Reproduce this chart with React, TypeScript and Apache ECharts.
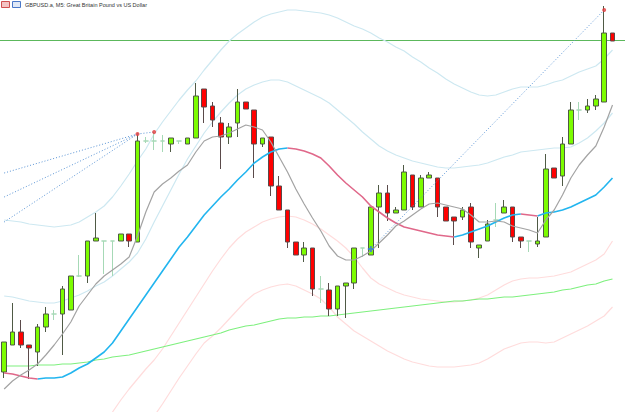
import React, { useEffect, useRef } from "react";
import * as echarts from "echarts";

// [open, close, low, high]
const candles: number[][] = [
  [1.27040, 1.27070, 1.27034, 1.27070],
  [1.27067, 1.27080, 1.27067, 1.27109],
  [1.27080, 1.27067, 1.27064, 1.27092],
  [1.27067, 1.27064, 1.27033, 1.27067],
  [1.27060, 1.27085, 1.27046, 1.27088],
  [1.27085, 1.27098, 1.27080, 1.27105],
  [1.27098, 1.27098, 1.27092, 1.27102],
  [1.27098, 1.27123, 1.27057, 1.27126],
  [1.27102, 1.27136, 1.27102, 1.27136],
  [1.27136, 1.27136, 1.27135, 1.27157],
  [1.27136, 1.27171, 1.27129, 1.27171],
  [1.27171, 1.27174, 1.27171, 1.27199],
  [1.27171, 1.27171, 1.27138, 1.27171],
  [1.27171, 1.27171, 1.27136, 1.27171],
  [1.27171, 1.27178, 1.27171, 1.27178],
  [1.27178, 1.27171, 1.27165, 1.27178],
  [1.27170, 1.27271, 1.27170, 1.27277],
  [1.27271, 1.27271, 1.27269, 1.27275],
  [1.27271, 1.27271, 1.27262, 1.27280],
  [1.27271, 1.27271, 1.27260, 1.27277],
  [1.27268, 1.27274, 1.27260, 1.27274],
  [1.27271, 1.27271, 1.27268, 1.27271],
  [1.27268, 1.27274, 1.27268, 1.27274],
  [1.27274, 1.27316, 1.27274, 1.27329],
  [1.27323, 1.27305, 1.27289, 1.27323],
  [1.27306, 1.27292, 1.27285, 1.27310],
  [1.27289, 1.27275, 1.27243, 1.27295],
  [1.27275, 1.27285, 1.27268, 1.27289],
  [1.27289, 1.27310, 1.27275, 1.27323],
  [1.27310, 1.27303, 1.27303, 1.27310],
  [1.27302, 1.27268, 1.27234, 1.27302],
  [1.27268, 1.27274, 1.27265, 1.27274],
  [1.27275, 1.27226, 1.27216, 1.27275],
  [1.27226, 1.27202, 1.27202, 1.27236],
  [1.27202, 1.27170, 1.27164, 1.27202],
  [1.27170, 1.27157, 1.27157, 1.27170],
  [1.27157, 1.27164, 1.27150, 1.27170],
  [1.27164, 1.27123, 1.27116, 1.27164],
  [1.27123, 1.27123, 1.27109, 1.27136],
  [1.27122, 1.27103, 1.27096, 1.27129],
  [1.27103, 1.27126, 1.27096, 1.27126],
  [1.27126, 1.27129, 1.27094, 1.27129],
  [1.27129, 1.27164, 1.27123, 1.27164],
  [1.27164, 1.27164, 1.27155, 1.27164],
  [1.27157, 1.27205, 1.27157, 1.27205],
  [1.27205, 1.27219, 1.27164, 1.27227],
  [1.27219, 1.27199, 1.27191, 1.27227],
  [1.27199, 1.27202, 1.27199, 1.27205],
  [1.27202, 1.27240, 1.27202, 1.27247],
  [1.27237, 1.27205, 1.27202, 1.27237],
  [1.27205, 1.27234, 1.27205, 1.27237],
  [1.27234, 1.27237, 1.27234, 1.27240],
  [1.27234, 1.27205, 1.27195, 1.27234],
  [1.27205, 1.27191, 1.27191, 1.27205],
  [1.27195, 1.27191, 1.27167, 1.27195],
  [1.27195, 1.27202, 1.27192, 1.27205],
  [1.27205, 1.27170, 1.27164, 1.27209],
  [1.27164, 1.27167, 1.27154, 1.27167],
  [1.27171, 1.27188, 1.27171, 1.27192],
  [1.27192, 1.27192, 1.27185, 1.27209],
  [1.27199, 1.27205, 1.27199, 1.27212],
  [1.27205, 1.27175, 1.27170, 1.27205],
  [1.27175, 1.27171, 1.27164, 1.27175],
  [1.27171, 1.27171, 1.27160, 1.27171],
  [1.27168, 1.27171, 1.27165, 1.27195],
  [1.27175, 1.27243, 1.27175, 1.27258],
  [1.27244, 1.27234, 1.27234, 1.27244],
  [1.27236, 1.27268, 1.27226, 1.27275],
  [1.27268, 1.27302, 1.27268, 1.27310],
  [1.27302, 1.27302, 1.27292, 1.27310],
  [1.27302, 1.27306, 1.27299, 1.27313],
  [1.27306, 1.27313, 1.27302, 1.27317],
  [1.27310, 1.27379, 1.27310, 1.27406],
  [1.27379, 1.27371, 1.27371, 1.27379],
];

const fastMA = [
  1.27023, 1.27031, 1.27037, 1.27042, 1.27048, 1.27057, 1.27067, 1.27078, 1.27090, 1.27106,
  1.27117, 1.27128, 1.27136, 1.27142, 1.27148, 1.27155, 1.27176, 1.27200, 1.27220, 1.27228,
  1.27234, 1.27241, 1.27247, 1.27260, 1.27271, 1.27275, 1.27276, 1.27279, 1.27283, 1.27287,
  1.27285, 1.27282, 1.27270, 1.27255, 1.27240, 1.27223, 1.27208, 1.27194, 1.27181, 1.27166,
  1.27156, 1.27152, 1.27152, 1.27156, 1.27161, 1.27169, 1.27177, 1.27186, 1.27191, 1.27197,
  1.27203, 1.27208, 1.27209, 1.27207, 1.27205, 1.27203, 1.27197, 1.27190, 1.27190, 1.27191,
  1.27190, 1.27186, 1.27184, 1.27182, 1.27179, 1.27192, 1.27202, 1.27217, 1.27234, 1.27247,
  1.27257, 1.27266, 1.27285, 1.27307,
];

const slowMA = [
  1.27039, 1.27038, 1.27036, 1.27034, 1.27033, 1.27034, 1.27034, 1.27035, 1.27039, 1.27044,
  1.27048, 1.27054, 1.27060, 1.27069, 1.27081, 1.27093, 1.27105, 1.27117, 1.27129, 1.27141,
  1.27153, 1.27165, 1.27175, 1.27186, 1.27197, 1.27206, 1.27215, 1.27223, 1.27232, 1.27240,
  1.27249, 1.27255, 1.27260, 1.27263, 1.27264, 1.27263, 1.27261, 1.27258, 1.27254, 1.27246,
  1.27237, 1.27229, 1.27222, 1.27215, 1.27206, 1.27200, 1.27194, 1.27189, 1.27185, 1.27183,
  1.27181, 1.27179, 1.27177, 1.27176, 1.27175, 1.27177, 1.27180, 1.27183, 1.27186, 1.27190,
  1.27194, 1.27197, 1.27198, 1.27197, 1.27196, 1.27199, 1.27200, 1.27202, 1.27205, 1.27209,
  1.27213, 1.27217, 1.27225, 1.27234,
];

const longMA = [
  1.27046, 1.27046, 1.27046, 1.27046, 1.27047, 1.27047, 1.27047, 1.27048, 1.27048, 1.27049,
  1.27050, 1.27052, 1.27053, 1.27055, 1.27056, 1.27057, 1.27059, 1.27061, 1.27063, 1.27065,
  1.27067, 1.27069, 1.27071, 1.27073, 1.27075, 1.27077, 1.27079, 1.27082, 1.27084, 1.27086,
  1.27087, 1.27089, 1.27091, 1.27093, 1.27094, 1.27094, 1.27095, 1.27095, 1.27096, 1.27096,
  1.27097, 1.27098, 1.27099, 1.27100, 1.27101, 1.27102, 1.27103, 1.27104, 1.27105, 1.27106,
  1.27107, 1.27108, 1.27109, 1.27110, 1.27111, 1.27111, 1.27112, 1.27113, 1.27113, 1.27114,
  1.27115, 1.27115, 1.27116, 1.27117, 1.27118, 1.27119, 1.27120, 1.27122, 1.27123, 1.27125,
  1.27127, 1.27128, 1.27131, 1.27133,
];

const bandUpper = [
  1.27192, 1.27191, 1.27190, 1.27188, 1.27187, 1.27186, 1.27185, 1.27186, 1.27187, 1.27190,
  1.27195, 1.27200, 1.27206, 1.27215, 1.27226, 1.27238, 1.27251, 1.27263, 1.27278, 1.27290,
  1.27301, 1.27312, 1.27322, 1.27331, 1.27342, 1.27352, 1.27362, 1.27371, 1.27378, 1.27384,
  1.27390, 1.27395, 1.27398, 1.27400, 1.27402, 1.27402, 1.27401, 1.27400, 1.27399, 1.27397,
  1.27394, 1.27390, 1.27386, 1.27383, 1.27379, 1.27374, 1.27370, 1.27365, 1.27361, 1.27355,
  1.27350, 1.27344, 1.27339, 1.27333, 1.27328, 1.27324, 1.27320, 1.27317, 1.27316, 1.27317,
  1.27320, 1.27323, 1.27325, 1.27325, 1.27325, 1.27327, 1.27330, 1.27332, 1.27336, 1.27340,
  1.27343, 1.27346, 1.27353, 1.27362,
];

const bandLower = [
  1.27116, 1.27115, 1.27113, 1.27111, 1.27110, 1.27109, 1.27109, 1.27111, 1.27114, 1.27117,
  1.27121, 1.27126, 1.27130, 1.27136, 1.27143, 1.27150, 1.27159, 1.27173, 1.27190, 1.27206,
  1.27222, 1.27238, 1.27253, 1.27266, 1.27279, 1.27290, 1.27300, 1.27309, 1.27317, 1.27323,
  1.27327, 1.27330, 1.27332, 1.27332, 1.27330, 1.27326, 1.27322, 1.27318, 1.27314, 1.27309,
  1.27302, 1.27295, 1.27288, 1.27280, 1.27273, 1.27266, 1.27261, 1.27257, 1.27254, 1.27251,
  1.27249, 1.27247, 1.27245, 1.27244, 1.27244, 1.27245, 1.27246, 1.27247, 1.27249, 1.27252,
  1.27255, 1.27257, 1.27260, 1.27261, 1.27262, 1.27263, 1.27264, 1.27264, 1.27265, 1.27269,
  1.27274, 1.27281, 1.27289, 1.27299,
];

const envUpper = [
  null, null, null, null, null, null, null, null, null, null, null,
  1.26974, 1.26988, 1.27000, 1.27012, 1.27023, 1.27033, 1.27043, 1.27052, 1.27063, 1.27076,
  1.27089, 1.27102, 1.27115, 1.27128, 1.27141, 1.27153, 1.27164, 1.27173, 1.27180, 1.27185,
  1.27190, 1.27193, 1.27195, 1.27196, 1.27195, 1.27192, 1.27188, 1.27183, 1.27177, 1.27171,
  1.27164, 1.27155, 1.27144, 1.27134, 1.27128, 1.27124, 1.27120, 1.27117, 1.27115, 1.27113,
  1.27112, 1.27111, 1.27110, 1.27110, 1.27111, 1.27112, 1.27114, 1.27117, 1.27122, 1.27127,
  1.27131, 1.27133, 1.27134, 1.27134, 1.27135, 1.27136, 1.27138, 1.27140, 1.27144, 1.27148,
  1.27152, 1.27158, 1.27171,
];

const envLower = [
  null, null, null, null, null, null, null, null, null, null, null, null, null, null, null, null,
  1.26970, 1.26984, 1.26996, 1.27008, 1.27021, 1.27034, 1.27046, 1.27058, 1.27069, 1.27076,
  1.27084, 1.27093, 1.27102, 1.27111, 1.27118, 1.27122, 1.27125, 1.27127, 1.27128, 1.27126,
  1.27122, 1.27118, 1.27113, 1.27105, 1.27095, 1.27088, 1.27081, 1.27076, 1.27071, 1.27066,
  1.27061, 1.27057, 1.27053, 1.27050, 1.27048, 1.27046, 1.27045, 1.27045, 1.27045, 1.27046,
  1.27047, 1.27049, 1.27053, 1.27058, 1.27063, 1.27066, 1.27069, 1.27070, 1.27070, 1.27069,
  1.27070, 1.27074, 1.27078, 1.27082, 1.27086, 1.27091, 1.27096, 1.27105,
];

// drawing objects: [bar index, price]
const fanLines = [
  [[0, 1.27239], [16, 1.27278]],
  [[0, 1.27215], [16, 1.27278]],
  [[0, 1.27190], [16, 1.27278]],
  [[16, 1.27278], [18, 1.2728]],
];
const trendLine = [[44, 1.27163], [72, 1.27402]];
const anchorPoints = [[16, 1.27278], [18, 1.2728], [72, 1.27402]];
const crossPoints = [[44, 1.27163]];
const horizontalLevel = 1.27372;
const titleText = "GBPUSD.a, M5: Great Britain Pound vs US Dollar";

const BAR_COUNT = 75;
const categories: string[] = [];
for (let i = 0; i < BAR_COUNT; i++) {
  const m = 10 * 60 + i * 5;
  categories.push(`${String(Math.floor(m / 60)).padStart(2, "0")}:${String(m % 60).padStart(2, "0")}`);
}

const DOJI = "#a6d9b6";
const W = 625;
const H = 412;

export default function App() {
  const ref = useRef<HTMLDivElement>(null);
  useEffect(() => {
    if (!ref.current) return;
    const chart = echarts.init(ref.current, undefined, { renderer: "svg" });

    const slowUp: (number | null)[] = slowMA.map(() => null);
    const slowDown: (number | null)[] = slowMA.map(() => null);
    for (let i = 0; i < slowMA.length - 1; i++) {
      const t = slowMA[i + 1] >= slowMA[i] ? slowUp : slowDown;
      t[i] = slowMA[i];
      t[i + 1] = slowMA[i + 1];
    }

    const candleData = candles.map((c) =>
      c[0] === c[1]
        ? { value: c, itemStyle: { color: DOJI, color0: DOJI, borderColor: DOJI, borderColor0: DOJI } }
        : c
    );

    const line = (data: any[], color: string, width: number, extra: any = {}) => ({
      type: "line",
      data,
      symbol: "none",
      silent: true,
      connectNulls: false,
      lineStyle: { color, width },
      ...extra,
    });

    const headerGraphics = [
      { type: "rect", shape: { x: 1.5, y: 1.5, width: 8, height: 6 }, style: { fill: "#f3c4c4", stroke: "#d05050", lineWidth: 1 } },
      { type: "rect", shape: { x: 12.5, y: 1.5, width: 8, height: 6 }, style: { fill: "#dfe8f7", stroke: "#4a78c8", lineWidth: 1 } },
      {
        type: "text",
        left: 25,
        top: 2,
        style: { text: titleText, fontSize: 5.5, fontFamily: "Liberation Sans", fill: "#333" },
      },
    ];

    chart.setOption({
      animation: false,
      backgroundColor: "#ffffff",
      grid: { left: -6.6, top: 0, width: 632, height: 412 },
      xAxis: { type: "category", data: categories, boundaryGap: true, show: false },
      yAxis: { type: "value", min: 1.27, max: 1.27412, show: false, scale: true },
      graphic: headerGraphics,
      series: [
        {
          type: "candlestick",
          data: candleData,
          barWidth: 5,
          silent: true,
          z: 3,
          itemStyle: {
            color: "#7cfc00",
            color0: "#ff0000",
            borderColor: "#4f5a45",
            borderColor0: "#5a4a4a",
            borderWidth: 1,
          },
        },
        line(bandUpper, "#cde8f1", 1.2),
        line(bandLower, "#cde8f1", 1.2),
        line(envUpper, "#ffdcdc", 1.2),
        line(envLower, "#ffdcdc", 1.2),
        line(longMA, "#7ef07e", 1.2),
        line(slowUp, "#22b5ef", 1.6, { z: 4 }),
        line(slowDown, "#e0688a", 1.6, { z: 4 }),
        line(fastMA, "#a3a3a3", 1.2, { z: 4 }),
        ...fanLines.map((d) => line(d, "#5b95d6", 1, { z: 4, lineStyle: { color: "#5b95d6", width: 1, type: [1, 2] } })),
        line(trendLine, "#5b95d6", 1, { z: 4, lineStyle: { color: "#5b95d6", width: 1, type: [1, 2] } }),
        {
          type: "scatter",
          data: anchorPoints,
          symbol: "circle",
          symbolSize: 4,
          silent: true,
          z: 5,
          itemStyle: { color: "#e23b3b" },
        },
        {
          type: "scatter",
          data: crossPoints,
          symbol: "path://M1,0h1v1h1v1h-1v1h-1v-1h-1v-1h1z",
          symbolSize: 6,
          silent: true,
          z: 5,
          itemStyle: { color: "#3a7bd5" },
        },
      ],
    });

    // horizontal price level, positioned through the y axis scale (behind candles)
    const yLevel = chart.convertToPixel({ yAxisIndex: 0 }, horizontalLevel) as number;
    chart.setOption({
      graphic: [
        ...headerGraphics,
        {
          type: "line",
          silent: true,
          z: 1,
          shape: { x1: 0, y1: Math.round(yLevel) + 0.5, x2: W, y2: Math.round(yLevel) + 0.5 },
          style: { stroke: "#5cb85c", lineWidth: 1 },
        },
      ],
    });

    return () => chart.dispose();
  }, []);
  return <div ref={ref} style={{ position: "absolute", left: 0, top: 0, width: W, height: H }} />;
}
